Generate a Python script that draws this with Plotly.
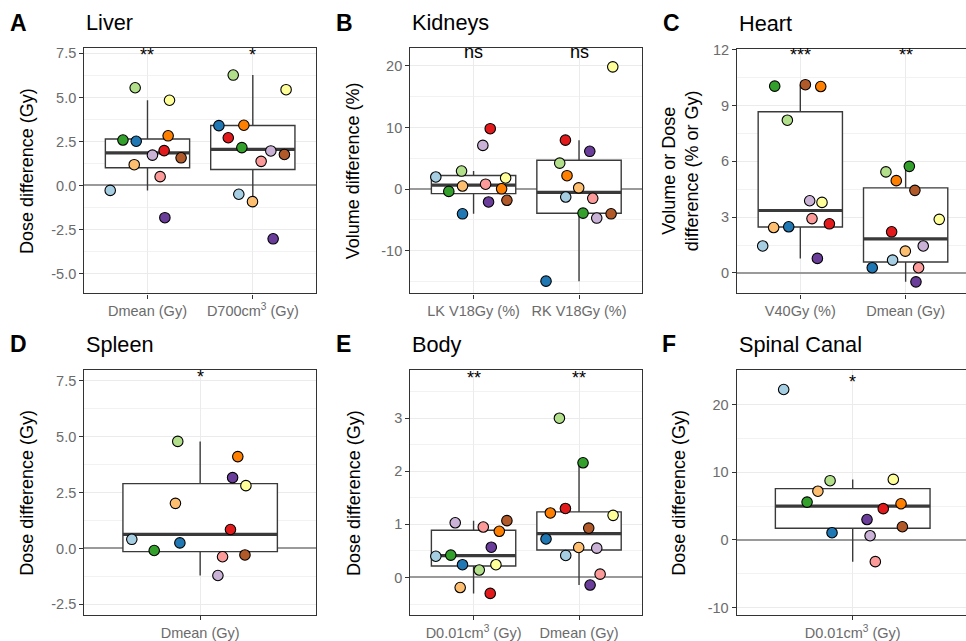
import numpy as np
import plotly.graph_objects as go

W, H = 966, 641

# Paired palette, one colour per patient
palette = ["#A6CEE3", "#1F78B4", "#B2DF8A", "#33A02C", "#FB9A99", "#E31A1C",
           "#FDBF6F", "#FF7F00", "#CAB2D6", "#6A3D9A", "#FFFF99", "#B15928"]

# ---- data (one value per patient, palette order) ----
liver_dmean = [-0.28, 2.51, 5.55, 2.58, 0.50, 1.98, 1.18, 2.82, 1.72, -1.83, 4.84, 1.57]
liver_d700 = [-0.50, 3.40, 6.27, 2.15, 1.37, 2.71, -0.92, 3.42, 1.96, -3.03, 5.44, 1.76]
kid_lk = [1.97, -4.0, 2.93, -0.37, 0.80, 9.80, 0.50, 0.05, 7.09, -2.08, 1.81, -1.81]
kid_rk = [-1.28, -14.92, 4.21, -3.89, -1.49, 7.94, 0.21, 2.18, -4.69, 6.13, 19.82, -4.0]
heart_v40 = [1.45, 2.48, 8.21, 10.04, 2.92, 2.64, 2.44, 10.02, 3.88, 0.78, 3.79, 10.12]
heart_dmean = [0.69, 0.28, 5.43, 5.73, 0.28, 2.21, 1.17, 4.96, 1.45, -0.48, 2.88, 4.44]
spleen_dmean = [0.41, 0.25, 4.79, -0.09, -0.37, 0.85, 2.02, 4.11, -1.21, 3.17, 2.81, -0.29]
body_d001 = [0.40, 0.24, 0.14, 0.42, 0.95, -0.30, -0.19, 0.87, 1.03, 0.57, 0.24, 1.07]
body_dmean = [0.415, 0.725, 3.0, 2.16, 0.062, 1.30, 0.564, 1.215, 0.552, -0.143, 1.17, 0.93]
spinal_d001 = [22.26, 1.07, 8.77, 5.60, -3.21, 4.63, 7.21, 5.36, 0.63, 3.02, 8.96, 1.95]

# jitter offsets as seen in the picture (category units)
jit_liver_dmean = [-0.354, -0.107, -0.117, -0.233, 0.120, 0.158, -0.126, 0.196, 0.047, 0.165, 0.209, 0.319]
jit_liver_d700 = [-0.133, -0.322, -0.186, -0.104, 0.079, -0.233, -0.003, -0.085, 0.171, 0.193, 0.316, 0.300]
jit_kid_lk = [-0.358, -0.105, -0.114, -0.235, 0.114, 0.158, -0.105, 0.266, 0.088, 0.142, 0.304, 0.316]
jit_kid_rk = [-0.126, -0.313, -0.183, 0.038, 0.130, -0.129, -0.003, -0.114, 0.168, 0.102, 0.320, 0.304]
jit_heart_v40 = [-0.357, -0.110, -0.123, -0.243, 0.111, 0.276, -0.253, 0.194, 0.089, 0.162, 0.206, 0.048]
jit_heart_dmean = [-0.124, -0.317, -0.187, 0.035, 0.123, -0.133, -0.003, -0.089, 0.167, 0.098, 0.319, 0.088]
jit_spleen = [-0.354, -0.105, -0.116, -0.238, 0.116, 0.157, -0.128, 0.195, 0.092, 0.168, 0.237, 0.232]
jit_body_d001 = [-0.358, -0.105, 0.054, -0.216, 0.092, 0.158, -0.127, 0.244, -0.174, 0.168, 0.212, 0.316]
jit_body_dmean = [-0.126, -0.313, -0.186, 0.038, 0.200, -0.129, -0.003, -0.272, 0.168, 0.105, 0.323, 0.092]
jit_spinal = [-0.357, -0.107, -0.117, -0.236, 0.117, 0.158, -0.180, 0.250, 0.090, 0.074, 0.210, 0.257]

# category labels
cats_liver = ["Dmean (Gy)", "D700cm<sup>3</sup> (Gy)"]
cats_kid = ["LK V18Gy (%)", "RK V18Gy (%)"]
cats_heart = ["V40Gy (%)", "Dmean (Gy)"]
cats_spleen = ["Dmean (Gy)"]
cats_body = ["D0.01cm<sup>3</sup> (Gy)", "Dmean (Gy)"]
cats_spinal = ["D0.01cm<sup>3</sup> (Gy)"]

# significance labels and their heights
sig_liver = ["**", "*"];     sig_liver_y = [7.39, 7.39]
sig_kid = ["ns", "ns"];      sig_kid_y = [22.3, 22.3]
sig_heart = ["***", "**"];   sig_heart_y = [11.69, 11.69]
sig_spleen = ["*"];          sig_spleen_y = [7.69]
sig_body = ["**", "**"];     sig_body_y = [3.76, 3.76]
sig_spinal = ["*"];          sig_spinal_y = [23.42]

# y tick values / labels
yt_liver = [-5, -2.5, 0, 2.5, 5, 7.5]; yl_liver = ["-5.0", "-2.5", "0.0", "2.5", "5.0", "7.5"]
yt_kid = [-10, 0, 10, 20]; yl_kid = ["-10", "0", "10", "20"]
yt_heart = [0, 3, 6, 9, 12]; yl_heart = ["0", "3", "6", "9", "12"]
yt_spleen = [-2.5, 0, 2.5, 5, 7.5]; yl_spleen = ["-2.5", "0.0", "2.5", "5.0", "7.5"]
yt_body = [0, 1, 2, 3]; yl_body = ["0", "1", "2", "3"]
yt_spinal = [-10, 0, 10, 20]; yl_spinal = ["-10", "0", "10", "20"]

panels = [
    dict(letter="A", title="Liver", ytitle="Dose difference (Gy)",
         series=[liver_dmean, liver_d700], jit=[jit_liver_dmean, jit_liver_d700],
         cats=cats_liver, sig=sig_liver, sigy=sig_liver_y, yt=yt_liver, yl=yl_liver,
         px=(84.3, 316), py=(42, 290), yr=(-6.13, 7.78), xr=(0.4, 2.6), yt_x=27, letter_x=8, right=True),
    dict(letter="B", title="Kidneys", ytitle="Volume difference (%)",
         series=[kid_lk, kid_rk], jit=[jit_kid_lk, jit_kid_rk],
         cats=cats_kid, sig=sig_kid, sigy=sig_kid_y, yt=yt_kid, yl=yl_kid,
         px=(410.3, 642.3), py=(42, 290), yr=(-16.9, 22.8), xr=(0.4, 2.6), yt_x=353.3, letter_x=334, right=True),
    dict(letter="C", title="Heart", ytitle="Volume or Dose<br>difference (% or Gy)",
         series=[heart_v40, heart_dmean], jit=[jit_heart_v40, jit_heart_dmean],
         cats=cats_heart, sig=sig_heart, sigy=sig_heart_y, yt=yt_heart, yl=yl_heart,
         px=(737.1, 966), py=(42.5, 290), yr=(-1.10, 12.04), xr=(0.4, 2.573), yt_x=680, letter_x=661, right=False),
    dict(letter="D", title="Spleen", ytitle="Dose difference (Gy)",
         series=[spleen_dmean], jit=[jit_spleen],
         cats=cats_spleen, sig=sig_spleen, sigy=sig_spleen_y, yt=yt_spleen, yl=yl_spleen,
         px=(84.3, 316), py=(367.7, 616), yr=(-2.99, 7.98), xr=(0.4, 1.6), yt_x=27, letter_x=8, right=True),
    dict(letter="E", title="Body", ytitle="Dose difference (Gy)",
         series=[body_d001, body_dmean], jit=[jit_body_d001, jit_body_dmean],
         cats=cats_body, sig=sig_body, sigy=sig_body_y, yt=yt_body, yl=yl_body,
         px=(410.3, 642.3), py=(367.7, 616), yr=(-0.713, 3.906), xr=(0.4, 2.6), yt_x=353.3, letter_x=334, right=True),
    dict(letter="F", title="Spinal Canal", ytitle="Dose difference (Gy)",
         series=[spinal_d001], jit=[jit_spinal],
         cats=cats_spinal, sig=sig_spinal, sigy=sig_spinal_y, yt=yt_spinal, yl=yl_spinal,
         px=(736.7, 966), py=(367.7, 616), yr=(-11.15, 25.13), xr=(0.4, 1.586), yt_x=679, letter_x=660, right=False),
]

FONT = "Liberation Sans, Arial, Helvetica, sans-serif"
BOXCOL = "#3a3a3a"
GRID = "#EBEBEB"
TICKTXT = "#6b6b6b"

fig = go.Figure()
layout = dict(width=W, height=H, margin=dict(l=0, r=0, t=0, b=0),
              paper_bgcolor="white", plot_bgcolor="white", showlegend=False,
              font=dict(family=FONT, color="black"), annotations=[])


def px2x(p):
    return p / W


def py2y(p):
    return 1 - p / H


for i, P in enumerate(panels):
    n = i + 1
    xa = "x" if n == 1 else f"x{n}"
    ya = "y" if n == 1 else f"y{n}"
    xkey = "xaxis" if n == 1 else f"xaxis{n}"
    ykey = "yaxis" if n == 1 else f"yaxis{n}"

    lo, hi = P["yr"]
    yt = P["yt"]
    step = yt[1] - yt[0]
    minors = []
    v = yt[0] - step / 2
    while v <= hi + 1e-9:
        if v >= lo:
            minors.append(v)
        v += step

    layout[xkey] = dict(domain=[px2x(P["px"][0]), min(1.0, px2x(P["px"][1]))], anchor=ya,
                        range=list(P["xr"]), tickmode="array",
                        tickvals=list(range(1, len(P["cats"]) + 1)), ticktext=P["cats"],
                        showgrid=True, gridcolor=GRID, gridwidth=1.1, zeroline=False,
                        showline=True, linecolor="#333333", linewidth=1.3, mirror=True,
                        ticks="outside", ticklen=4, tickcolor="#333333", tickwidth=1.1,
                        tickfont=dict(size=14.5, color=TICKTXT, family=FONT), fixedrange=True)
    layout[ykey] = dict(domain=[py2y(P["py"][1]), py2y(P["py"][0])], anchor=xa,
                        range=[lo, hi], tickmode="array", tickvals=yt, ticktext=P["yl"],
                        showgrid=True, gridcolor=GRID, gridwidth=1.1,
                        minor=dict(tickmode="array", tickvals=minors, showgrid=True,
                                   gridcolor="#F2F2F2", gridwidth=0.7, ticks=""),
                        zeroline=True, zerolinecolor="#9a9a9a", zerolinewidth=1.6,
                        showline=True, linecolor="#333333", linewidth=1.3,
                        mirror=True if P["right"] else False,
                        ticks="outside", ticklen=4, tickcolor="#333333", tickwidth=1.1,
                        tickfont=dict(size=14.5, color=TICKTXT, family=FONT), fixedrange=True)

    for k, (vals, jit) in enumerate(zip(P["series"], P["jit"])):
        xc = k + 1
        arr = np.array(vals, dtype=float)
        q1, med, q3 = np.percentile(arr, [25, 50, 75])
        iqr = q3 - q1
        lf = arr[arr >= q1 - 1.5 * iqr].min()
        uf = arr[arr <= q3 + 1.5 * iqr].max()
        fig.add_trace(go.Box(x=[xc], q1=[q1], median=[med], q3=[q3],
                             lowerfence=[lf], upperfence=[uf], width=0.8,
                             fillcolor="white", line=dict(color=BOXCOL, width=1.4),
                             whiskerwidth=0, boxpoints=False, xaxis=xa, yaxis=ya,
                             hoverinfo="skip"))
        fig.add_trace(go.Scatter(x=[xc - 0.4, xc + 0.4], y=[med, med], mode="lines",
                                 line=dict(color=BOXCOL, width=3.2), xaxis=xa, yaxis=ya,
                                 hoverinfo="skip"))
        fig.add_trace(go.Scatter(x=[xc + j for j in jit], y=vals, mode="markers",
                                 marker=dict(size=10.5, color=palette,
                                             line=dict(color="black", width=1.1)),
                                 xaxis=xa, yaxis=ya, hoverinfo="skip"))
        layout["annotations"].append(dict(x=xc, y=P["sigy"][k], xref=xa, yref=ya,
                                          text=P["sig"][k], showarrow=False,
                                          xanchor="center", yanchor="middle",
                                          font=dict(size=18, color="black", family=FONT)))

    top = P["py"][0]
    layout["annotations"].append(dict(x=px2x(P["letter_x"]), y=py2y(top - 26), xref="paper", yref="paper",
                                      text=f"<b>{P['letter']}</b>", showarrow=False,
                                      xanchor="left", yanchor="middle",
                                      font=dict(size=23, color="black", family=FONT)))
    layout["annotations"].append(dict(x=px2x(P["px"][0]), y=py2y(top - 26), xref="paper", yref="paper",
                                      text=P["title"], showarrow=False,
                                      xanchor="left", yanchor="middle",
                                      font=dict(size=21.7, color="black", family=FONT)))
    layout["annotations"].append(dict(x=px2x(P["yt_x"]), y=py2y((P["py"][0] + P["py"][1]) / 2),
                                      xref="paper", yref="paper", text=P["ytitle"],
                                      showarrow=False, textangle=-90,
                                      xanchor="center", yanchor="middle",
                                      font=dict(size=18, color="black", family=FONT)))

fig.update_layout(**layout)
fig.write_html("out.html")
